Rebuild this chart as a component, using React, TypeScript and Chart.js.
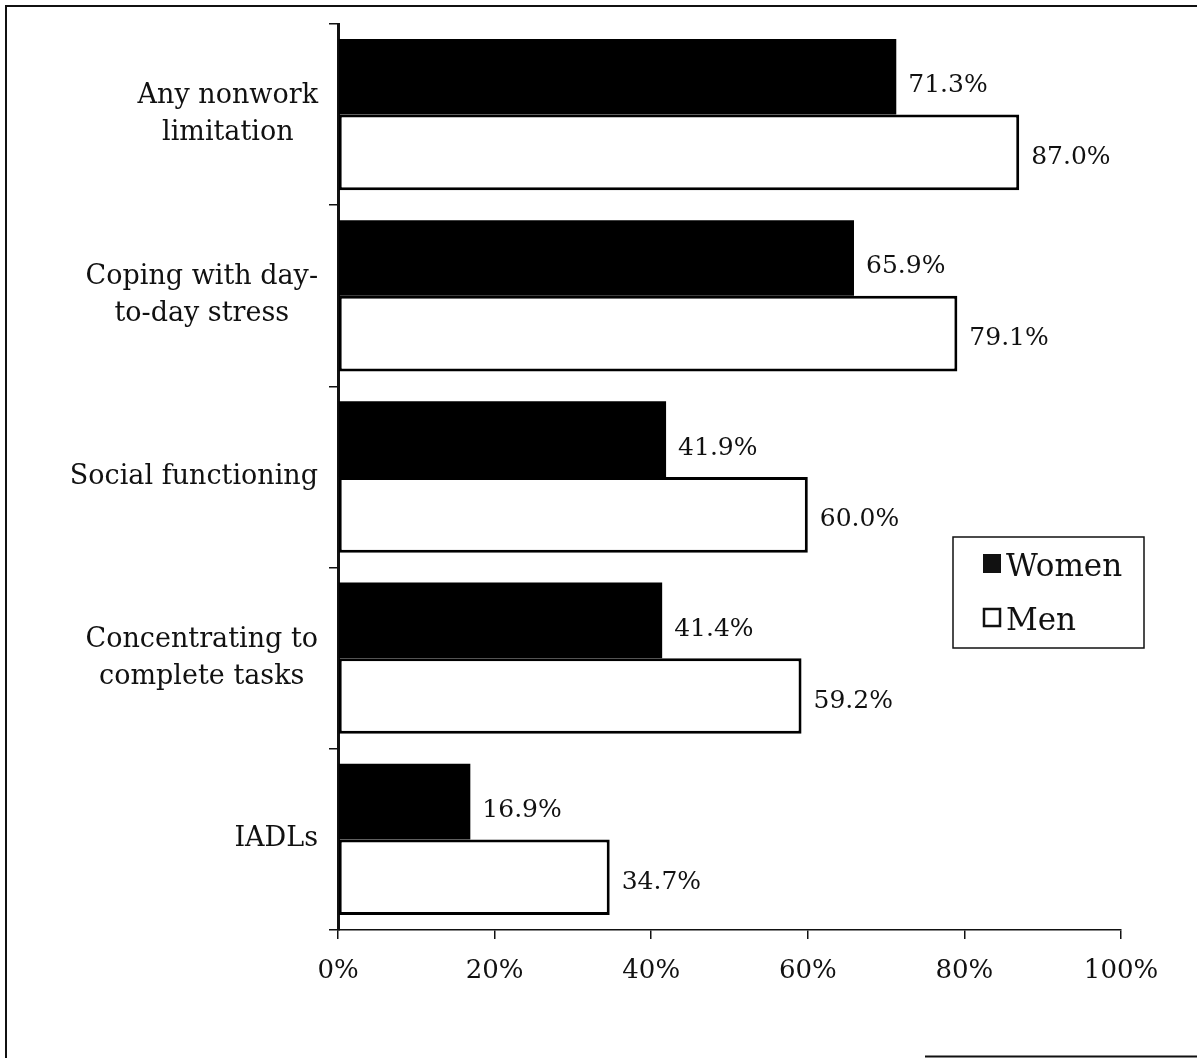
import React, { useEffect, useRef } from "react";
import { Chart, registerables } from "chart.js";

Chart.register(...registerables);

const categories: string[][] = [
  ["Any nonwork", "limitation"],
  ["Coping with day-", "to-day stress"],
  ["Social functioning"],
  ["Concentrating to", "complete tasks"],
  ["IADLs"],
];
const womenValues = [71.3, 65.9, 41.9, 41.4, 16.9];
const menValues = [87.0, 79.1, 60.0, 59.2, 34.7];
const seriesNames = ["Women", "Men"];
const xTicks = [0, 20, 40, 60, 80, 100];

const W = 1197;
const H = 1058;
const SERIF = "'DejaVu Serif', 'Liberation Serif', serif";

const framePlugin = {
  id: "frame",
  beforeDraw(chart: any) {
    const ctx = chart.ctx;
    ctx.save();
    ctx.fillStyle = "#ffffff";
    ctx.fillRect(0, 0, W, H);
    ctx.strokeStyle = "#111";
    ctx.lineWidth = 2;
    ctx.beginPath();
    ctx.moveTo(6, H);
    ctx.lineTo(6, 6);
    ctx.lineTo(W, 6);
    ctx.moveTo(925, H - 1.5);
    ctx.lineTo(W, H - 1.5);
    ctx.stroke();
    ctx.restore();
  },
};

const labelsPlugin = {
  id: "customLabels",
  afterDraw(chart: any) {
    const ctx = chart.ctx;
    const yScale = chart.scales.y;
    ctx.save();
    // category labels
    ctx.font = `27px ${SERIF}`;
    ctx.fillStyle = "#111";
    ctx.textAlign = "center";
    ctx.textBaseline = "middle";
    const rightEdge = chart.chartArea.left - 20;
    const lineH = 37;
    (chart.data.labels as string[][]).forEach((lines, i) => {
      const yc = yScale.getPixelForValue(i);
      const maxW = Math.max(...lines.map((l) => ctx.measureText(l).width));
      const xc = rightEdge - maxW / 2;
      const y0 = yc - ((lines.length - 1) * lineH) / 2;
      lines.forEach((l, k) => ctx.fillText(l, xc, y0 + k * lineH));
    });
    // value labels
    ctx.font = `25px ${SERIF}`;
    ctx.textAlign = "left";
    chart.data.datasets.forEach((ds: any, di: number) => {
      const meta = chart.getDatasetMeta(di);
      const dy = di === 0 ? 9 : 5;
      meta.data.forEach((el: any, i: number) => {
        const v = ds.data[i];
        ctx.fillText(v.toFixed(1) + "%", el.x + 12, el.y + dy);
      });
    });
    // legend
    const bx = 953, by = 537, bw = 191, bh = 111;
    ctx.lineWidth = 1.5;
    ctx.strokeStyle = "#111";
    ctx.strokeRect(bx, by, bw, bh);
    ctx.font = `31px ${SERIF}`;
    ctx.textBaseline = "alphabetic";
    chart.data.datasets.forEach((ds: any, di: number) => {
      const sy = by + 17 + di * 54;
      if (di === 0) {
        ctx.fillStyle = "#111";
        ctx.fillRect(983, sy, 18, 19);
      } else {
        ctx.fillStyle = "#fff";
        ctx.fillRect(983, sy, 18, 19);
        ctx.lineWidth = 2.5;
        ctx.strokeRect(984, sy + 1, 16, 17);
      }
      ctx.fillStyle = "#111";
      ctx.fillText(ds.label, 1006, sy + 22);
    });
    ctx.restore();
  },
};

export default function App() {
  const ref = useRef<HTMLCanvasElement>(null);
  useEffect(() => {
    if (!ref.current) return;
    const chart = new Chart(ref.current, {
      type: "bar",
      data: {
        labels: categories as any,
        datasets: [
          {
            label: seriesNames[0],
            data: womenValues,
            backgroundColor: "#000000",
            borderWidth: 0,
            categoryPercentage: 0.835,
            barPercentage: 1,
          },
          {
            label: seriesNames[1],
            data: menValues,
            backgroundColor: "#ffffff",
            borderColor: "#000000",
            borderWidth: 3,
            borderSkipped: false,
            categoryPercentage: 0.835,
            barPercentage: 1,
          },
        ],
      },
      options: {
        indexAxis: "y",
        responsive: false,
        animation: false,
        layout: { padding: { left: 338, top: 24, right: W - 1121, bottom: 0 } },
        plugins: {
          legend: { display: false },
          tooltip: { enabled: false },
        },
        scales: {
          x: {
            min: 0,
            max: 100,
            afterBuildTicks: (scale: any) => {
              scale.ticks = xTicks.map((v) => ({ value: v }));
            },
            afterFit: (scale: any) => {
              scale.height = H - 930;
            },
            ticks: {
              callback: (v: any) => v + "%",
              font: { family: SERIF, size: 26 },
              color: "#111",
              padding: 17,
              maxRotation: 0,
              autoSkip: false,
            },
            grid: {
              drawOnChartArea: false,
              drawTicks: true,
              tickLength: 9,
              color: "#111",
              lineWidth: 1.5,
            },
            border: { display: true, color: "#111", width: 1.5 },
          },
          y: {
            ticks: { display: false },
            afterFit: (scale: any) => {
              scale.width = 0;
            },
            grid: {
              offset: true,
              drawOnChartArea: false,
              drawTicks: true,
              tickLength: 9,
              color: "#111",
              lineWidth: 1.5,
            },
            border: { display: true, color: "#111", width: 3 },
          },
        },
      },
      plugins: [framePlugin, labelsPlugin],
    });
    return () => chart.destroy();
  }, []);
  return (
    <div style={{ position: "absolute", left: 0, top: 0, width: W, height: H }}>
      <canvas ref={ref} width={W} height={H} style={{ width: W, height: H, display: "block" }} />
    </div>
  );
}
